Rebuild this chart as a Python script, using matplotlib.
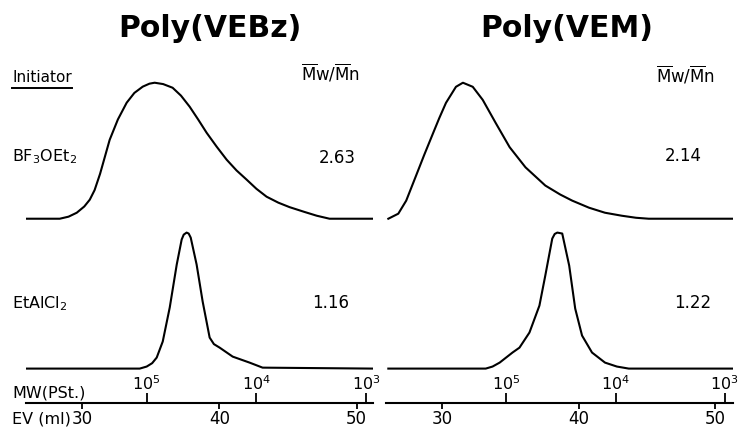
import numpy as np
import matplotlib.pyplot as plt
from matplotlib.lines import Line2D

plt.rcParams['font.family'] = 'DejaVu Sans'

# GPC traces: elution volume (ml) and detector response (peak = 1)
vebz_bf3_ev = [25.96, 28.36, 29.0, 29.6, 30.15, 30.55, 30.9, 31.3, 32.0, 32.6, 33.24, 33.8, 34.41,
               34.9, 35.28, 35.9, 36.59, 37.2, 37.83, 38.45, 39.07, 39.8, 40.53, 41.25, 41.99,
               42.7, 43.44, 44.3, 45.12, 46.2, 47.1, 48.03, 51.2]
vebz_bf3_h = [0, 0, 0.015, 0.044, 0.09, 0.14, 0.21, 0.33, 0.58, 0.73, 0.853, 0.925, 0.971,
              0.993, 1.0, 0.99, 0.963, 0.905, 0.824, 0.73, 0.632, 0.53, 0.434, 0.355, 0.287,
              0.22, 0.162, 0.118, 0.085, 0.05, 0.022, 0, 0]

vebz_eta_ev = [25.96, 34.19, 34.70, 35.1, 35.43, 35.87, 36.38, 36.89, 37.25, 37.40, 37.61,
               37.76, 37.91, 38.34, 38.78, 39.29, 39.6, 40.02, 40.97, 42.20, 43.15, 51.2]
vebz_eta_h = [0, 0, 0.015, 0.04, 0.081, 0.199, 0.449, 0.765, 0.949, 0.985, 1.0,
              0.993, 0.963, 0.765, 0.493, 0.228, 0.18, 0.154, 0.088, 0.044, 0.007, 0]

vem_bf3_ev = [26.07, 26.8, 27.38, 28.11, 28.7, 29.35, 29.8, 30.29, 31.02, 31.53, 32.25, 32.98,
              33.93, 34.95, 36.11, 37.56, 38.65, 39.53, 40.76, 41.93, 43.16, 44.2, 45.13, 51.3]
vem_bf3_h = [0, 0.037, 0.133, 0.319, 0.47, 0.63, 0.74, 0.852, 0.97, 1.0, 0.97, 0.874,
             0.704, 0.526, 0.378, 0.244, 0.178, 0.133, 0.081, 0.044, 0.022, 0.007, 0, 0]

vem_eta_ev = [26.07, 33.2, 33.7, 34.22, 35.16, 35.67, 36.4, 37.13, 37.56, 38.07, 38.25, 38.44,
              38.8, 39.31, 39.75, 40.25, 40.98, 41.93, 42.8, 43.67, 51.3]
vem_eta_h = [0, 0, 0.015, 0.044, 0.118, 0.154, 0.265, 0.463, 0.684, 0.956, 0.99, 1.0,
             0.993, 0.757, 0.441, 0.243, 0.118, 0.044, 0.015, 0, 0]

titles = ['Poly(VEBz)', 'Poly(VEM)']
initiators = ['BF$_3$OEt$_2$', 'EtAlCl$_2$']
pdi_vebz = ['2.63', '1.16']
pdi_vem = ['2.14', '1.22']
ev_ticks = [30, 40, 50]
mw_ticks = [34.7, 42.7, 50.7]
mw_labels = [r'$10^5$', r'$10^4$', r'$10^3$']

W, H = 744, 430
fig = plt.figure(figsize=(W / 100, H / 100), dpi=100)


def fx(x):
    return x / W


def fy(y):
    return 1 - y / H


top_off = 1.355
bot_off = 0.253

panels = [
    (26, (25.9, 51.2), vebz_bf3_ev, vebz_bf3_h, vebz_eta_ev, vebz_eta_h),
    (386, (25.9, 51.3), vem_bf3_ev, vem_bf3_h, vem_eta_ev, vem_eta_h),
]
for left, xl, ev1, h1, ev2, h2 in panels:
    ax = fig.add_axes([fx(left), fy(403), fx(347), 348 / H])
    ax.plot(ev1, np.array(h1) + top_off, color='black', lw=1.5, solid_joinstyle='round')
    ax.plot(ev2, np.array(h2) + bot_off, color='black', lw=1.5, solid_joinstyle='round')
    ax.set_xlim(*xl)
    ax.set_ylim(0, 348 / 136)
    for s in ['top', 'left', 'right']:
        ax.spines[s].set_visible(False)
    ax.spines['bottom'].set_linewidth(1.5)
    ax.set_yticks([])
    ax.set_xticks(ev_ticks)
    ax.tick_params(axis='x', direction='out', length=4, width=1.3, pad=1, labelsize=12)
    sec = ax.secondary_xaxis(0)
    sec.set_alignment('top')
    sec.set_xticks(mw_ticks, mw_labels)
    sec.tick_params(direction='out', length=7, width=1.3, pad=0, labelsize=11.5)
    for s in sec.spines.values():
        s.set_visible(False)

# titles
fig.text(fx(210), fy(37), titles[0], ha='center', va='baseline', fontsize=21.5, fontweight='bold')
fig.text(fx(567), fy(37), titles[1], ha='center', va='baseline', fontsize=21.5, fontweight='bold')

# column headers
fig.text(fx(12), fy(82), 'Initiator', ha='left', va='baseline', fontsize=11)
fig.add_artist(Line2D([fx(12), fx(72)], [fy(88), fy(88)], color='black', lw=1.4))
mwmn = r'$\overline{\mathrm{M}}\mathrm{w}/\overline{\mathrm{M}}\mathrm{n}$'
fig.text(fx(331), fy(80), mwmn, ha='center', va='baseline', fontsize=12)
fig.text(fx(686), fy(82), mwmn, ha='center', va='baseline', fontsize=12)

# initiator rows
fig.text(fx(12), fy(161), initiators[0], ha='left', va='baseline', fontsize=11.5)
fig.text(fx(12), fy(308), initiators[1], ha='left', va='baseline', fontsize=11.5)
fig.text(fx(337), fy(163), pdi_vebz[0], ha='center', va='baseline', fontsize=12)
fig.text(fx(331), fy(308), pdi_vebz[1], ha='center', va='baseline', fontsize=12)
fig.text(fx(683), fy(161), pdi_vem[0], ha='center', va='baseline', fontsize=12)
fig.text(fx(693), fy(308), pdi_vem[1], ha='center', va='baseline', fontsize=12)

# axis captions
fig.text(fx(12), fy(397), 'MW(PSt.)', ha='left', va='baseline', fontsize=11.5)
fig.text(fx(12), fy(424), 'EV (ml)', ha='left', va='baseline', fontsize=11.5)

fig.savefig('out.png', dpi=100)
